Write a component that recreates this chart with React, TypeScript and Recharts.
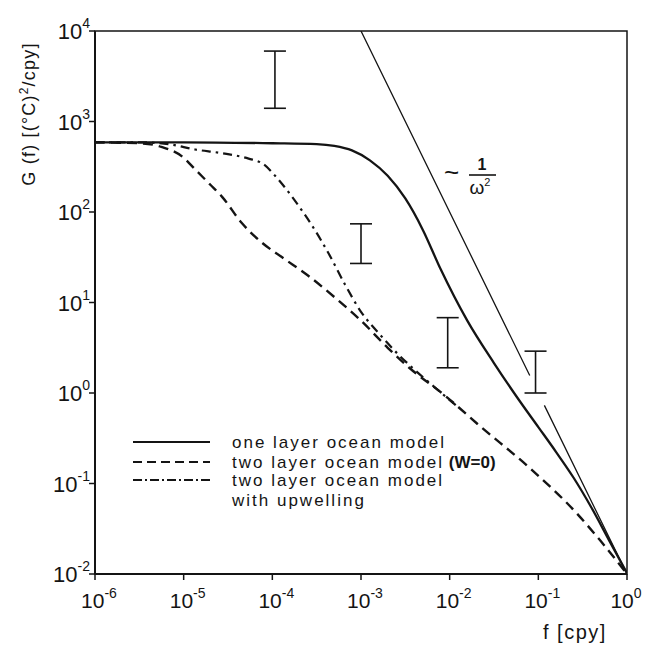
import React from "react";
import {
  ComposedChart,
  Line,
  Scatter,
  ErrorBar,
  XAxis,
  YAxis,
  ReferenceArea,
  Customized,
} from "recharts";

// ---- axis ticks ----
const fTicks = [1e-6, 1e-5, 1e-4, 1e-3, 1e-2, 1e-1, 1];
const gTicks = [1e-2, 1e-1, 1, 10, 100, 1000, 10000];

// ---- one layer ocean model (solid) ----
const oneLayerF = [1e-6, 1e-5, 1e-4, 3.16e-4, 5.0e-4, 7.9e-4, 1.26e-3, 2.0e-3, 3.16e-3, 5.0e-3, 7.9e-3, 1.58e-2, 3.16e-2, 6.3e-2, 0.1, 0.158, 0.251, 0.398, 0.631, 1];
const oneLayerG = [589, 589, 575, 562, 537, 479, 372, 251, 141, 63, 23.4, 6.3, 2.14, 0.79, 0.42, 0.224, 0.115, 0.054, 0.0234, 0.0102];

// ---- two layer ocean model (W=0) (dashed) ----
const twoLayerF = [1e-6, 3.16e-6, 5.6e-6, 1e-5, 1.35e-5, 2.0e-5, 2.7e-5, 4.5e-5, 7.6e-5, 1.29e-4, 2.5e-4, 5.0e-4, 1e-3, 2e-3, 3.5e-3, 8.7e-3, 0.022, 0.079, 0.27, 0.5, 1];
const twoLayerG = [589, 575, 525, 398, 295, 200, 148, 76, 46, 31.6, 20, 11.5, 6.3, 3.16, 1.9, 0.95, 0.43, 0.15, 0.047, 0.0234, 0.01];

// ---- two layer ocean model with upwelling (dash-dot) ----
const upwellingF = [1e-6, 3.16e-6, 6.8e-6, 1.35e-5, 2.7e-5, 5.4e-5, 7.9e-5, 1.12e-4, 1.78e-4, 2.8e-4, 4.3e-4, 6.6e-4, 1e-3, 1.58e-3, 2.6e-3, 3.8e-3, 6.3e-3, 0.0126];
const upwellingG = [589, 589, 562, 490, 447, 389, 339, 240, 135, 71, 35, 15.8, 7.9, 4.6, 2.7, 1.9, 1.23, 0.69];

// ---- ~ 1/omega^2 reference line (gap where error bar sits) ----
const omegaF = [1e-3, 0.08, 0.1, 0.117, 1];
const omegaG: (number | null)[] = [10000, 1.56, null, 0.73, 0.01];

// ---- error bars ----
const errF = [1.07e-4, 1e-3, 9.5e-3, 0.093];
const errLow = [1400, 27, 1.9, 1.0];
const errHigh = [6000, 74, 6.8, 2.9];

// ---- legend ----
const legendLabels = [
  "one layer ocean model",
  "two layer ocean model",
  "two layer ocean model",
  "with upwelling",
];

const zip = (fs: number[], gs: (number | null)[]) => fs.map((f, i) => ({ f, g: gs[i] }));
const oneLayerData = zip(oneLayerF, oneLayerG);
const twoLayerData = zip(twoLayerF, twoLayerG);
const upwellingData = zip(upwellingF, upwellingG);
const omegaData = zip(omegaF, omegaG);
const errData = errF.map((f, i) => ({ f, g: errLow[i], err: [0, errHigh[i] - errLow[i]] }));

const INK = "#141414";
const FONT = "'Liberation Sans', Arial, Helvetica, sans-serif";

const XTick = (props: any) => {
  const { x, y, payload } = props;
  const e = Math.round(Math.log10(payload.value));
  const dx = e === 0 ? -1 : 4;
  return (
    <text x={x + dx} y={y + 26} textAnchor="middle" fontFamily={FONT} fontSize={21} fill={INK}>
      <tspan>10</tspan>
      <tspan dy={-10} fontSize={14}>{String(e)}</tspan>
    </text>
  );
};

const YTick = (props: any) => {
  const { x, y, payload } = props;
  const e = Math.round(Math.log10(payload.value));
  return (
    <text x={x + 1} y={y + 8} textAnchor="end" fontFamily={FONT} fontSize={22} fill={INK}>
      <tspan>10</tspan>
      <tspan dy={-11} fontSize={14}>{String(e)}</tspan>
    </text>
  );
};

const EmptyShape = () => <g />;

const legendRows = [434, 454, 472, 492];
const legendDashes = [undefined, "9 5", "9 3 2 3"];

const Annotations = () => (
  <g fill={INK} fontFamily={FONT}>
    <text transform="translate(27,106) rotate(-90)" textAnchor="middle" fontSize={18} letterSpacing={1.2}>
      <tspan>G (f)  [(°C)</tspan>
      <tspan dy={-7} fontSize={12}>2</tspan>
      <tspan dy={7}>/cpy]</tspan>
    </text>
    <text x={535} y={631} fontSize={20} letterSpacing={1.5}>f [cpy]</text>
    <text x={436} y={173} fontSize={26}>~</text>
    <text x={474} y={162} fontSize={16} fontWeight="bold" textAnchor="middle">1</text>
    <line x1={461} x2={488} y1={167} y2={167} stroke={INK} strokeWidth={1.6} />
    <text x={472} y={186} fontSize={19} textAnchor="middle">
      ω<tspan dy={-8} fontSize={11}>2</tspan>
    </text>
    {legendDashes.map((d, i) => (
      <line key={"l" + i} x1={125} x2={202} y1={legendRows[i]} y2={legendRows[i]}
        stroke={INK} strokeWidth={2} strokeDasharray={d} />
    ))}
    {legendLabels.map((t, i) => (
      <text key={"t" + i} x={224} y={legendRows[i] + 6} fontSize={17} letterSpacing={2}>
        {t}
        {i === 1 ? <tspan fontWeight="bold" letterSpacing={0}> (W=0)</tspan> : null}
      </text>
    ))}
  </g>
);

export default function App() {
  return (
    <div style={{ background: "#fff", width: 642, height: 638 }}>
      <ComposedChart width={642} height={638} margin={{ top: 23, right: 23, bottom: 32, left: 27 }}>
        <ReferenceArea x1={1e-6} x2={1} y1={0.01} y2={10000} fill="none" stroke={INK} strokeWidth={1.5} />
        <XAxis
          dataKey="f"
          type="number"
          scale="log"
          domain={[1e-6, 1]}
          allowDataOverflow
          ticks={fTicks}
          tick={<XTick />}
          tickSize={6}
          tickLine={{ stroke: INK, strokeWidth: 1.5 }}
          axisLine={{ stroke: INK, strokeWidth: 2 }}
          height={40}
          interval={0}
        />
        <YAxis
          dataKey="g"
          type="number"
          scale="log"
          domain={[0.01, 10000]}
          allowDataOverflow
          ticks={gTicks}
          tick={<YTick />}
          tickSize={6}
          tickMargin={0}
          tickLine={{ stroke: INK, strokeWidth: 1.5 }}
          axisLine={{ stroke: INK, strokeWidth: 2 }}
          width={60}
          interval={0}
        />
        <Line data={omegaData} dataKey="g" type="linear" stroke={INK} strokeWidth={1.3}
          dot={false} activeDot={false} isAnimationActive={false} connectNulls={false} />
        <Line data={oneLayerData} dataKey="g" type="monotone" stroke={INK} strokeWidth={2.3}
          dot={false} activeDot={false} isAnimationActive={false} />
        <Line data={twoLayerData} dataKey="g" type="monotone" stroke={INK} strokeWidth={2.4}
          strokeDasharray="10 6" dot={false} activeDot={false} isAnimationActive={false} />
        <Line data={upwellingData} dataKey="g" type="monotone" stroke={INK} strokeWidth={2.2}
          strokeDasharray="9 5 2.5 5" dot={false} activeDot={false} isAnimationActive={false} />
        <Scatter data={errData} dataKey="g" shape={EmptyShape} isAnimationActive={false}>
          <ErrorBar dataKey="err" direction="y" width={11} stroke={INK} strokeWidth={1.6} isAnimationActive={false} />
        </Scatter>
        <Customized component={Annotations} />
      </ComposedChart>
    </div>
  );
}
